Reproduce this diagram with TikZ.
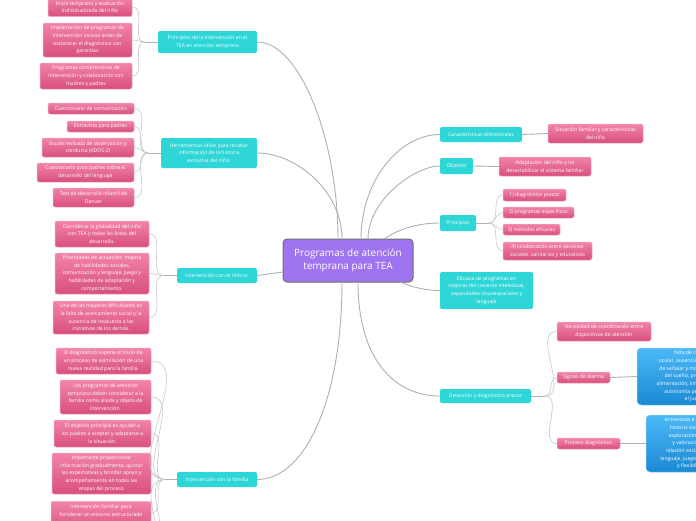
\documentclass[tikz,border=0pt]{standalone}
\usepackage{fontspec}
\setmainfont{Open Sans}
\definecolor{purp}{HTML}{A073F0}
\definecolor{purpE}{HTML}{707070}
\definecolor{cyanbox}{HTML}{2ED6D8}
\definecolor{pinkT}{HTML}{F283AA}
\definecolor{pinkB}{HTML}{D84F7F}
\definecolor{pinkE}{HTML}{F5A9C3}
\definecolor{blueT}{HTML}{4CB9F6}
\definecolor{blueB}{HTML}{1B88D5}
\definecolor{blueE}{HTML}{92D2FA}
\definecolor{lineG}{HTML}{B0B0B0}
\definecolor{lineL}{HTML}{C8C8C8}
\newcommand\smallfnt{\fontsize{5.1}{7.7}\selectfont}
\newcommand\bigfnt{\fontsize{10}{13.3}\selectfont}
\tikzset{
  basebox/.style={rounded corners=2pt, inner sep=0pt, align=center, text=white, font=\smallfnt},
  cbox/.style={basebox, fill=cyanbox},
  pbox/.style={basebox, top color=pinkT, bottom color=pinkB, draw=pinkE, line width=0.5pt},
  bbox/.style={basebox, top color=blueT, bottom color=blueB, draw=blueE, line width=0.5pt, rounded corners=4pt},
  mainbox/.style={draw=purpE, fill=purp, rounded corners=4pt, line width=1pt, inner sep=0pt, font=\bigfnt, text=white, align=center},
  sz/.style 2 args={minimum width=#1pt, minimum height=#2pt},
  conn/.style={draw=lineG, line width=0.9pt},
  sconn/.style={draw=lineL, line width=0.6pt},
}
\begin{document}
\begin{tikzpicture}[x=1pt,y=-1pt]
\useasboundingbox (0,0) rectangle (696,520);
\fill[white] (0,0) rectangle (696,520);

% center
\node[mainbox, sz={130}{43}] (C) at (348,260.5) {Programas de atención\\temprana para TEA};

% left main branches
\node[cbox, sz={99}{22}] (L1) at (207.5,42) {Principios de la intervención en el\\TEA en atención temprana};
\node[cbox, sz={96}{30}] (L2) at (209,153) {Herramientas útiles para recabar\\información de la historia\\evolutiva del niño:};
\node[cbox, sz={80}{15}] (L3) at (217,275.5) {Intervención con el niño/a:};
\node[cbox, sz={80}{15}] (L4) at (217,479.5) {Intervención con la familia};

% right main branches
\node[cbox, sz={82}{15}] (R1) at (481,134.5) {Características diferenciales};
\node[cbox, sz={33}{16}] (R2) at (456.5,166) {Objetivo};
\node[cbox, sz={36}{16}] (R3) at (458,223) {Principios};
\node[cbox, sz={93}{37}] (R4) at (486.5,290.5) {Eficacia de programas en\\mejoras del cociente intelectual,\\capacidades visuoespaciales y\\lenguaje};
\node[cbox, sz={91}{14}] (R5) at (485.5,396) {Detección y diagnóstico precoz};

% left children
\node[pbox, sz={84}{19}] (a11) at (90,7) {Inicio temprano y evaluación\\individualizada del niño};
\node[pbox, sz={89}{34}] (a12) at (87.5,40) {Implantación de programas de\\intervención incluso antes de\\esclarecer el diagnóstico con\\garantías};
\node[pbox, sz={92}{26}] (a13) at (86,76) {Programas comprensivos de\\intervención y colaboración con\\madres y padres};

\node[pbox, sz={86}{11}] (a21) at (91,108.5) {Cuestionario de comunicación};
\node[pbox, sz={67}{11}] (a22) at (100.5,126.5) {Entrevista para padres};
\node[pbox, sz={92}{19}] (a23) at (88,147.5) {Escala revisada de observación y\\conducta (ADOS-2)};
\node[pbox, sz={97}{19}] (a24) at (85.5,172.5) {Cuestionario para padres sobre el\\desarrollo del lenguaje};
\node[pbox, sz={81}{19}] (a25) at (93.5,197.5) {Test de desarrollo infantil de\\Denver};

\node[pbox, sz={94}{26}] (a31) at (102,234) {Considerar la globalidad del niño\\con TEA y todas las áreas del\\desarrollo.};
\node[pbox, sz={94}{41}] (a32) at (102,273.5) {Prioridades de actuación: mejora\\de habilidades sociales,\\comunicación y lenguaje, juego y\\habilidades de adaptación y\\comportamiento.};
\node[pbox, sz={96}{33}] (a33) at (101,317.5) {Una de las mayores dificultades es\\la falta de acercamiento social y la\\ausencia de respuesta a las\\iniciativas de los demás.};

\node[pbox, sz={95}{26}] (a41) at (103.5,361) {El diagnóstico supone el inicio de\\un proceso de asimilación de una\\nueva realidad para la familia.};
\node[pbox, sz={91}{34}] (a42) at (105.5,397) {Los programas de atención\\temprana deben considerar a la\\familia como aliada y objeto de\\intervención.};
\node[pbox, sz={97}{27}] (a43) at (102.5,433.5) {El objetivo principal es ayudar a\\los padres a aceptar y adaptarse a\\la situación.};
\node[pbox, sz={99}{41}] (a44) at (101.5,473.5) {Importante proporcionar\\información gradualmente, ajustar\\las expectativas y brindar apoyo y\\acompañamiento en todas las\\etapas del proceso};
\node[pbox, sz={100}{34}, anchor=north] (a45) at (101,501) {Intervención familiar para\\fortalecer un entorno estructurado\\\mbox{}\\\mbox{}};

% right children
\node[pbox, sz={95}{19}] (b11) at (595.5,133.5) {Situación familiar y características\\del niño};
\node[pbox, sz={92}{19}] (b21) at (545,166.5) {Adaptación del niño y no\\desestabilizar el sistema familiar};
\node[pbox, sz={63}{12}] (b31) at (534.5,195) {1) diagnóstico precoz};
\node[pbox, sz={71}{11}] (b32) at (538.5,212.5) {2) programas específicos};
\node[pbox, sz={57}{11}] (b33) at (531.5,229.5) {3) métodos eficaces};
\node[pbox, sz={89}{18}] (b34) at (547.5,251) {4) colaboración entre servicios\\sociales, sanitarios y educativos};
\node[pbox, sz={94}{19}] (b51) at (604,331.5) {Necesidad de coordinación entre\\dispositivos de atención};
\node[pbox, sz={53}{11}] (b52) at (583.5,377.5) {Signos de alarma};
\node[pbox, sz={63}{11}] (b53) at (588.5,443.5) {Proceso diagnóstico};
\node[bbox, sz={114}{57}] (s1) at (694,376.5) {falta de contacto\\ocular, ausencia de respuesta\\de señalar y mostrar objetos,\\del sueño, problemas de\\alimentación, limitaciones en la\\autonomía personal y en\\el juego};
\node[bbox, sz={110}{57}] (s2) at (701,443.5) {entrevistas e información de la\\historia evolutiva del niño,\\exploración clínica del niño\\y valoración de áreas de\\relación social, comunicación,\\lenguaje, juego y comportamiento\\y flexibilidad mental};

% center connectors
\draw[conn] (L1.east) .. controls (300,42) and (338,140) .. (338,239);
\draw[conn] (L2.east) .. controls (295,153) and (342,190) .. (342,239);
\draw[conn] (L3.east) -- (283,272);
\draw[conn] (L4.east) .. controls (305,479.5) and (342,400) .. (342,282);
\draw[conn] (R1.west) .. controls (400,134.5) and (361,180) .. (361,239);
\draw[conn] (R2.west) .. controls (415,166) and (368,200) .. (368,239);
\draw[conn] (R3.west) .. controls (420,223) and (400,228) .. (384,239);
\draw[conn] (R4.west) .. controls (425,290.5) and (412,287) .. (400,282);
\draw[conn] (R5.west) .. controls (395,396) and (358,360) .. (358,282);

% branch points
\coordinate (k1) at (145,42);
\coordinate (k2) at (148,153);
\coordinate (k3) at (164,275.5);
\coordinate (k4) at (165,479.5);
\coordinate (k5) at (489,223);
\coordinate (k6) at (545,396);
\coordinate (off1) at (151,545);
\coordinate (off2) at (151,585);
\draw[conn] (L1.west) -- (k1);
\draw[conn] (L2.west) -- (k2);
\draw[conn] (L3.west) -- (k3);
\draw[conn] (L4.west) -- (k4);
\draw[conn] (R3.east) -- (k5);
\draw[conn] (R5.east) -- (k6);
\draw[conn] (R1.east) -- (b11.west);
\draw[conn] (R2.east) -- (b21.west);
\draw[conn] (b52.east) -- (s1.west);
\draw[conn] (b53.east) -- (s2.west);

\foreach \c in {a11,a12,a13} \draw[sconn] (k1) to[out=180,in=0] (\c.east);
\foreach \c in {a21,a22,a23,a24,a25} \draw[sconn] (k2) to[out=180,in=0] (\c.east);
\foreach \c in {a31,a32,a33} \draw[sconn] (k3) to[out=180,in=0] (\c.east);
\foreach \c in {a41,a42,a43,a44} \draw[sconn] (k4) to[out=180,in=0] (\c.east);
\draw[sconn] (k4) to[out=180,in=0] ([yshift=-12pt]a45.north east);
\draw[sconn] (k4) to[out=180,in=0] (off1);
\draw[sconn] (k4) to[out=180,in=0] (off2);
\foreach \c in {b31,b32,b33,b34} \draw[sconn] (k5) to[out=0,in=180] (\c.west);
\foreach \c in {b51,b52,b53} \draw[sconn] (k6) to[out=0,in=180] (\c.west);
\end{tikzpicture}
\end{document}
